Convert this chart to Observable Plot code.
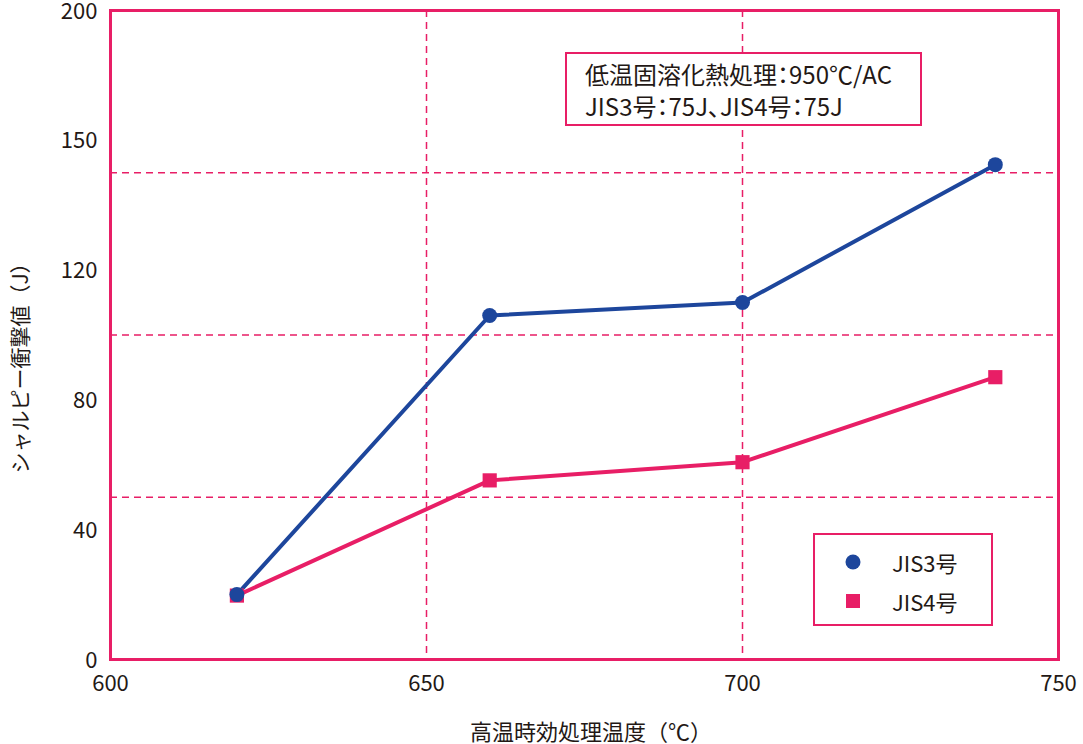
<!DOCTYPE html>
<html>
<head>
<meta charset="utf-8">
<script src="https://cdn.jsdelivr.net/npm/d3@7"></script>
<script src="https://cdn.jsdelivr.net/npm/@observablehq/plot@0.6"></script>
<style>
  html, body { margin: 0; padding: 0; background: #fff; }
  #wrap { position: relative; width: 1083px; height: 744px; font-family: "Noto Sans CJK JP", "Noto Sans", sans-serif; color: #231815; }
  #wrap svg { display: block; overflow: visible; }
  .ylabel { position: absolute; left: 19px; top: 363px; transform: translate(-50%, -50%) rotate(-90deg); font-size: 21px; white-space: nowrap; line-height: 1; }
  .xlabel { position: absolute; left: 591px; top: 730px; transform: translate(-50%, -50%); font-size: 22px; white-space: nowrap; line-height: 1; }
  .note { position: absolute; left: 565px; top: 52px; width: 353px; height: 70px; border: 2px solid #e81e66; background: #fff; box-sizing: content-box; }
  .note div { position: absolute; left: 18px; font-size: 24px; line-height: 1; white-space: nowrap; font-feature-settings: "palt"; }
  .legend { position: absolute; left: 813px; top: 533px; width: 176px; height: 89px; border: 2px solid #e81e66; background: #fff; }
  .legend .item { position: absolute; left: 0; font-size: 22px; line-height: 1; white-space: nowrap; }
  .legend svg { position: absolute; }
</style>
</head>
<body>
<div id="wrap"></div>
<script>
// ---- data ----
const temps = [620, 660, 700, 740];
const jis3 = [20, 106, 110, 152.5];
const jis4 = [19.7, 55.2, 60.8, 87];
const seriesNames = ["JIS3号", "JIS4号"];
const xTicks = [600, 650, 700, 750];
const yTicks = [0, 40, 80, 120, 160, 200];
const yTickLabels = ["0", "40", "80", "120", "150", "200"];
const gridXValues = [650, 700];
const gridYValues = [50, 100, 150];
const xTitle = "高温時効処理温度（℃）";
const yTitle = "シャルピー衝撃値（J）";
const noteLines = ["低温固溶化熱処理：950℃/AC", "JIS3号：75J、JIS4号：75J"];

const BLUE = "#1d469c";
const PINK = "#e81e66";

const rows3 = temps.map((t, i) => ({x: t, y: jis3[i], s: seriesNames[0]}));
const rows4 = temps.map((t, i) => ({x: t, y: jis4[i], s: seriesNames[1]}));

const chart = Plot.plot({
  width: 1083,
  height: 744,
  marginLeft: 110,
  marginRight: 25,
  marginTop: 10,
  marginBottom: 85,
  style: {fontFamily: '"Noto Sans CJK JP", "Noto Sans", sans-serif', fontSize: "22px", color: "#231815", background: "#fff", overflow: "visible"},
  x: {domain: [600, 750]},
  y: {domain: [0, 200]},
  marks: [
    Plot.gridX(gridXValues, {stroke: PINK, strokeOpacity: 1, strokeWidth: 1.5, strokeDasharray: "7,5"}),
    Plot.gridY(gridYValues, {stroke: PINK, strokeOpacity: 1, strokeWidth: 1.5, strokeDasharray: "7,5"}),
    Plot.axisX(xTicks, {tickSize: 0, tickPadding: 16, fontSize: 22, label: null}),
    Plot.axisY(yTicks, {tickSize: 0, tickPadding: 13, fontSize: 22, label: null, dy: 1,
      tickFormat: d => yTickLabels[yTicks.indexOf(d)]}),
    Plot.frame({stroke: PINK, strokeWidth: 3}),
    Plot.line(rows4, {x: "x", y: "y", stroke: PINK, strokeWidth: 4}),
    Plot.line(rows3, {x: "x", y: "y", stroke: BLUE, strokeWidth: 4}),
    Plot.dot(rows4, {x: "x", y: "y", symbol: "square", r: 8, fill: PINK, stroke: "none"}),
    Plot.dot(rows3, {x: "x", y: "y", symbol: "circle", r: 7.5, fill: BLUE, stroke: "none"})
  ]
});

const wrap = document.getElementById("wrap");
wrap.appendChild(chart);

const yl = document.createElement("div");
yl.className = "ylabel"; yl.textContent = yTitle; wrap.appendChild(yl);
const xl = document.createElement("div");
xl.className = "xlabel"; xl.textContent = xTitle; wrap.appendChild(xl);

const note = document.createElement("div");
note.className = "note";
noteLines.forEach((t, i) => {
  const d = document.createElement("div");
  d.textContent = t;
  d.style.top = (8 + i * 32) + "px";
  note.appendChild(d);
});
wrap.appendChild(note);

const legend = document.createElement("div");
legend.className = "legend";
const legendItems = [
  {name: seriesNames[0], color: BLUE, shape: "circle"},
  {name: seriesNames[1], color: PINK, shape: "square"}
];
legendItems.forEach((it, i) => {
  const cy = 27 + i * 39;
  const ns = "http://www.w3.org/2000/svg";
  const s = document.createElementNS(ns, "svg");
  s.setAttribute("width", 20); s.setAttribute("height", 20);
  s.style.left = "28px"; s.style.top = (cy - 10) + "px";
  let el;
  if (it.shape === "circle") {
    el = document.createElementNS(ns, "circle");
    el.setAttribute("cx", 10); el.setAttribute("cy", 10); el.setAttribute("r", 7.5);
  } else {
    el = document.createElementNS(ns, "rect");
    el.setAttribute("x", 3); el.setAttribute("y", 3); el.setAttribute("width", 14); el.setAttribute("height", 14);
  }
  el.setAttribute("fill", it.color);
  s.appendChild(el);
  legend.appendChild(s);
  const t = document.createElement("div");
  t.className = "item";
  t.textContent = it.name;
  t.style.left = "77px";
  t.style.top = (cy - 11) + "px";
  legend.appendChild(t);
});
wrap.appendChild(legend);
</script>
</body>
</html>
